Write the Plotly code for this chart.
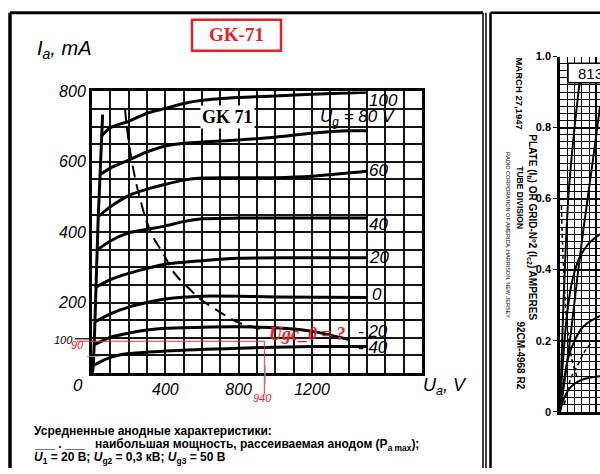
import plotly.graph_objects as go

W, H = 600, 474

# ---------------- data: GK-71 averaged anode characteristics ----------------
grid_labels = ["100", "80", "60", "40", "20", "0", "-20", "-40"]
ua_100 = [53, 100, 200, 300, 400, 500, 600, 800, 1000, 1200, 1500]
ia_100 = [674, 697, 715, 738, 752, 766, 775, 783, 787, 792, 798]
ua_80 = [44, 100, 200, 300, 400, 500, 600, 800, 1000, 1200, 1400, 1500]
ia_80 = [564, 582, 605, 628, 645, 653, 656, 662, 670, 681, 688, 688]
ua_60 = [34, 100, 200, 300, 400, 500, 600, 800, 1000, 1200, 1500]
ia_60 = [444, 472, 504, 522, 536, 548, 554, 555, 555, 559, 573]
ua_40 = [25, 100, 200, 300, 400, 500, 600, 800, 1000, 1500]
ia_40 = [348, 375, 398, 408, 418, 430, 438, 440, 440, 440]
ua_20 = [16, 100, 200, 300, 400, 600, 800, 1200, 1500]
ia_20 = [242, 265, 283, 297, 309, 319, 326, 327, 327]
ua_0 = [16, 100, 200, 300, 400, 600, 1000, 1500]
ia_0 = [145, 168, 187, 200, 210, 218, 216, 214]
ua_m20 = [16, 100, 200, 300, 400, 600, 800, 1000, 1200, 1400]
ia_m20 = [81, 101, 113, 122, 127, 130, 131, 128, 118, 95]
ua_m40 = [7, 100, 200, 400, 800, 1200, 1500]
ia_m40 = [21, 44, 55, 62, 70, 75, 75]
# steep low-voltage edge joining the curve starts
ua_knee = [2, 7, 12, 16, 20, 25, 34, 44, 53, 58]
ia_knee = [0, 21, 81, 145, 242, 348, 444, 564, 674, 734]
# maximum anode dissipation line
ua_pmax = [180, 190, 205, 225, 245, 270, 298, 340, 390, 443, 480, 535, 590, 698, 807, 953]
ia_pmax = [750, 700, 640, 580, 530, 480, 430, 380, 338, 288, 265, 237, 210, 173, 141, 122]
# label positions on the right (anode voltage, current)
label_ua = [1500, 1663, 1500, 1500, 1500, 1515, 1440, 1440]
label_ia = [775, 725, 575, 423, 327, 223, 118, 72]
# reading marked in red
read_ua = 940
read_ia = 90
x_ticks = [400, 800, 1200]
y_ticks = [200, 400, 600, 800]

# ---------------- data: 813 tube chart (right, cut off) ----------------
v813_a = [0, 80, 160, 240, 320, 400, 480, 550]
i813_a = [0, 0.11, 0.24, 0.38, 0.51, 0.63, 0.75, 0.86]
v813_b = [0, 40, 100, 170, 260, 380, 550]
i813_b = [0, 0.14, 0.28, 0.37, 0.43, 0.47, 0.50]
v813_c = [0, 50, 110, 200, 320, 550]
i813_c = [0, 0.08, 0.15, 0.20, 0.24, 0.27]
v813_d = [0, 60, 150, 300, 550]
i813_d = [0, 0.04, 0.07, 0.09, 0.10]
v813_e = [0, 30, 70, 120, 200, 300]
i813_e = [0, 0.20, 0.42, 0.62, 0.80, 0.98]
v813_dash1 = [20, 40, 70, 110, 160, 230]
i813_dash1 = [0.58, 0.44, 0.32, 0.22, 0.15, 0.10]
v813_dash2 = [60, 100, 160, 240, 340, 460]
i813_dash2 = [0.02, 0.06, 0.10, 0.13, 0.17, 0.20]
y813_ticks = [0, 0.2, 0.4, 0.6, 0.8, 1.0]
y813_text = ["0", "0.2", "0.4", "0.6", "0.8", "1.0"]

# ---------------- layout geometry ----------------
L, R, T, B = 92, 422, 86, 376          # main grid box (pixels)
XMAX, YMAX = 1800, 800
R2L, R2T, R2B = 560, 50, 416            # right chart box


def fx(p):
    return p / W


def fy(p):
    return 1 - p / H


sx = (R - L) / XMAX
sy = (B - T) / YMAX
full_x = [-L / sx, XMAX + (W - R) / sx]
full_y = [-(H - B) / sy, YMAX + T / sy]

NUMF = "Liberation Sans, Arial, sans-serif"
SERIF = "Liberation Serif, Times New Roman, serif"
SANS = "Liberation Sans, Arial, sans-serif"

fig = go.Figure()

curves = [(ua_100, ia_100), (ua_80, ia_80), (ua_60, ia_60), (ua_40, ia_40),
          (ua_20, ia_20), (ua_0, ia_0), (ua_m20, ia_m20), (ua_m40, ia_m40)]
for (u, i) in curves:
    fig.add_trace(go.Scatter(x=u, y=i, mode="lines", xaxis="x", yaxis="y",
                             line=dict(color="black", width=3, shape="spline", smoothing=0.8),
                             hoverinfo="skip"))
fig.add_trace(go.Scatter(x=ua_knee, y=ia_knee, mode="lines", xaxis="x", yaxis="y",
                         line=dict(color="black", width=3), hoverinfo="skip"))
fig.add_trace(go.Scatter(x=ua_pmax, y=ia_pmax, mode="lines", xaxis="x", yaxis="y",
                         line=dict(color="black", width=2, dash="12px,7px", shape="spline"),
                         hoverinfo="skip"))

# red reading guide (drawn on an invisible full-page axis with identical scale)
fig.add_trace(go.Scatter(x=[-82, read_ua, read_ua],
                         y=[read_ia, read_ia, -60], mode="lines", xaxis="x3", yaxis="y3",
                         line=dict(color="#f03030", width=1), hoverinfo="skip"))
fig.add_trace(go.Scatter(x=[-93, 16], y=[97, 97], mode="lines", xaxis="x3", yaxis="y3",
                         line=dict(color="black", width=1.2), hoverinfo="skip"))
fig.add_trace(go.Scatter(x=[read_ua + 5, read_ua + 5], y=[22, -30], mode="lines", xaxis="x3", yaxis="y3",
                         line=dict(color="#999999", width=1), hoverinfo="skip"))
fig.add_trace(go.Scatter(x=[-27, 44], y=[47, 47], mode="lines", xaxis="x3", yaxis="y3",
                         line=dict(color="#999999", width=1), hoverinfo="skip"))

# 813 chart curves
for (v, a) in [(v813_a, i813_a), (v813_b, i813_b), (v813_c, i813_c), (v813_d, i813_d), (v813_e, i813_e)]:
    fig.add_trace(go.Scatter(x=v, y=a, mode="lines", xaxis="x2", yaxis="y2",
                             line=dict(color="black", width=2, shape="spline"), hoverinfo="skip"))
for (v, a) in [(v813_dash1, i813_dash1), (v813_dash2, i813_dash2)]:
    fig.add_trace(go.Scatter(x=v, y=a, mode="lines", xaxis="x2", yaxis="y2",
                             line=dict(color="black", width=1.5, dash="4px,3px", shape="spline"),
                             hoverinfo="skip"))

xt_vals = list(range(0, XMAX + 1, 100))
yt_vals = list(range(0, YMAX + 1, 50))
grid_col = "#141414"

layout = dict(
    width=W, height=H, margin=dict(l=0, r=0, t=0, b=0),
    paper_bgcolor="white", plot_bgcolor="rgba(0,0,0,0)", showlegend=False,
    xaxis=dict(domain=[fx(L), fx(R)], range=[0, XMAX], anchor="y",
               tickmode="array", tickvals=xt_vals,
               ticktext=[str(v) if v in x_ticks else "" for v in xt_vals],
               showgrid=True, gridcolor=grid_col, gridwidth=1.6, zeroline=False,
               showline=True, linecolor="black", linewidth=2.5, mirror=True, ticks="",
               tickfont=dict(family=NUMF, size=16, color="black", style="italic")),
    yaxis=dict(domain=[fy(B), fy(T)], range=[0, YMAX], anchor="x",
               tickmode="array", tickvals=yt_vals,
               ticktext=[str(v) if v in y_ticks else "" for v in yt_vals],
               showgrid=True, gridcolor=grid_col, gridwidth=1.6, zeroline=False,
               showline=True, linecolor="black", linewidth=3, mirror=True, ticks="",
               tickfont=dict(family=NUMF, size=16, color="black", style="italic")),
    xaxis2=dict(domain=[fx(R2L), 1.0], range=[0, 550], anchor="y2",
                tickmode="linear", tick0=0, dtick=500, showticklabels=False,
                showgrid=True, gridcolor="black", gridwidth=2, zeroline=False,
                minor=dict(tickmode="linear", tick0=0, dtick=100, showgrid=True,
                           gridcolor="black", gridwidth=1),
                showline=True, linecolor="black", linewidth=2.5, ticks=""),
    yaxis2=dict(domain=[fy(R2B), fy(R2T)], range=[0, 1.0], anchor="x2",
                tickmode="array", tickvals=y813_ticks, ticktext=y813_text,
                showgrid=True, gridcolor="black", gridwidth=1.8, zeroline=False,
                minor=dict(tickmode="linear", tick0=0, dtick=0.02, showgrid=True,
                           gridcolor="black", gridwidth=1),
                showline=True, linecolor="black", linewidth=2.5, ticks="outside",
                ticklen=4, tickcolor="black",
                tickfont=dict(family=SANS, size=11, color="black", weight="bold")),
    xaxis3=dict(domain=[0, 1], range=full_x, visible=False, anchor="y3", fixedrange=True),
    yaxis3=dict(domain=[0, 1], range=full_y, visible=False, anchor="x3", fixedrange=True),
)
fig.update_layout(**layout)

ann = []


def A(text, x, y, size, color="black", family=SANS, xanchor="center", yanchor="middle",
      xref="paper", yref="paper", **kw):
    ann.append(dict(text=text, x=x, y=y, xref=xref, yref=yref, showarrow=False,
                    xanchor=xanchor, yanchor=yanchor,
                    font=dict(size=size, color=color, family=family), **kw))


# titles
A("<b>GK-71</b>", fx(236), fy(27.5), 19, color="#e8202a", family=SERIF)
A("<b>GK 71</b>", 740, 728, 18, family=SERIF, xref="x", yref="y", bgcolor="white")
A("<i>I<sub>a</sub>, mA</i>", fx(35), fy(43), 20, family=NUMF, xanchor="left")
A("<i>U<sub>a</sub>, V</i>", fx(421), fy(390), 18, family=NUMF, xanchor="left")
A("<i>0</i>", 0, 0, 17, family=NUMF, xref="x", yref="y", xshift=-14, yshift=-13)

# curve labels
label_txt = ["<i>100</i>", "<i>U<sub>g</sub> = 80 V</i>", "<i>60</i>", "<i>40</i>", "<i>20</i>",
             "<i>0</i>", "<i>- 20</i>", "<i>- 40</i>"]
for k, t in enumerate(label_txt):
    A(t, label_ua[k], label_ia[k], 17, family=NUMF,
      xanchor="right" if k == 1 else "left", xref="x", yref="y")

# red question and reading labels
A("<b><i>Ugc_0 = ?</i></b>", 1175, 111, 18, color="#f02020", family=SERIF, xref="x", yref="y")
A("<i>100</i>", -93, 97, 11, xanchor="right", yanchor="middle", xref="x3", yref="y3", yshift=-1)
A("<i>90</i>", -33, 80, 11, color="#f02020", xanchor="right", xref="x3", yref="y3")
A("<i>940</i>", read_ua - 10, -72, 11, color="#f02020", xref="x3", yref="y3")

# caption
A("<b>Усредненные анодные характеристики:</b>", fx(32), fy(436), 12, xanchor="left")
A("<b>___ . ___   наибольшая мощность, рассеиваемая анодом (P<sub>a max</sub>);</b>",
  fx(32), fy(450), 12, xanchor="left")
A("<b><i>U</i><sub>1</sub> = 20 В; <i>U</i><sub>g2</sub> = 0,3 кВ; <i>U</i><sub>g3</sub> = 50 В</b>",
  fx(32), fy(464), 12, xanchor="left")

# 813 panel texts
A("813", fx(576), fy(67), 15, xanchor="left")
A("<b>MARCH 27,1947</b>", fx(520), fy(88), 9.5, textangle=90)
A("<b>PLATE (I<sub>b</sub>) OR GRID-Nº2 (I<sub>c2</sub>) AMPERES</b>", fx(532), fy(226), 10, textangle=90)
A("<b>TUBE DIVISION</b>", fx(520), fy(195), 8.5, textangle=90)
A("<b>92CM-4968 R2</b>", fx(521), fy(358), 10, textangle=90)
A("RADIO CORPORATION OF AMERICA, HARRISON, NEW JERSEY", fx(508), fy(234), 5.5, textangle=90)

fig.update_layout(annotations=ann)

# frames around the two scanned panels and the title boxes
shapes = []


def line(x0, y0, x1, y1, w):
    shapes.append(dict(type="line", xref="paper", yref="paper", x0=fx(x0), y0=fy(y0),
                       x1=fx(x1), y1=fy(y1), line=dict(color="black", width=w)))


def box(x0, y0, x1, y1, w, color, layer="above"):
    shapes.append(dict(type="rect", xref="paper", yref="paper", x0=fx(x0), y0=fy(y1),
                       x1=fx(x1), y1=fy(y0), line=dict(color=color, width=w),
                       fillcolor="white", layer="below" if layer == "below" else "above",
                       opacity=1))


line(10, 5, 483, 5, 3)
line(10, 5, 10, 474, 3.5)
line(483, 5, 483, 474, 1.5)
line(486, 5, 486, 474, 1.5)
line(490.5, 5, 490.5, 474, 2.5)
line(490.5, 5, 600, 5, 2.5)
shapes.append(dict(type="rect", xref="paper", yref="paper", x0=fx(192), y0=fy(44),
                   x1=fx(281), y1=fy(12), line=dict(color="#e8202a", width=2.5)))
shapes.append(dict(type="rect", xref="paper", yref="paper", x0=fx(568), y0=fy(77),
                   x1=fx(610), y1=fy(57), line=dict(color="black", width=1.5),
                   fillcolor="white", layer="above"))
fig.update_layout(shapes=shapes)

fig.write_html("out.html",
               post_script="document.body.style.margin='0';document.body.style.overflow='hidden';")
